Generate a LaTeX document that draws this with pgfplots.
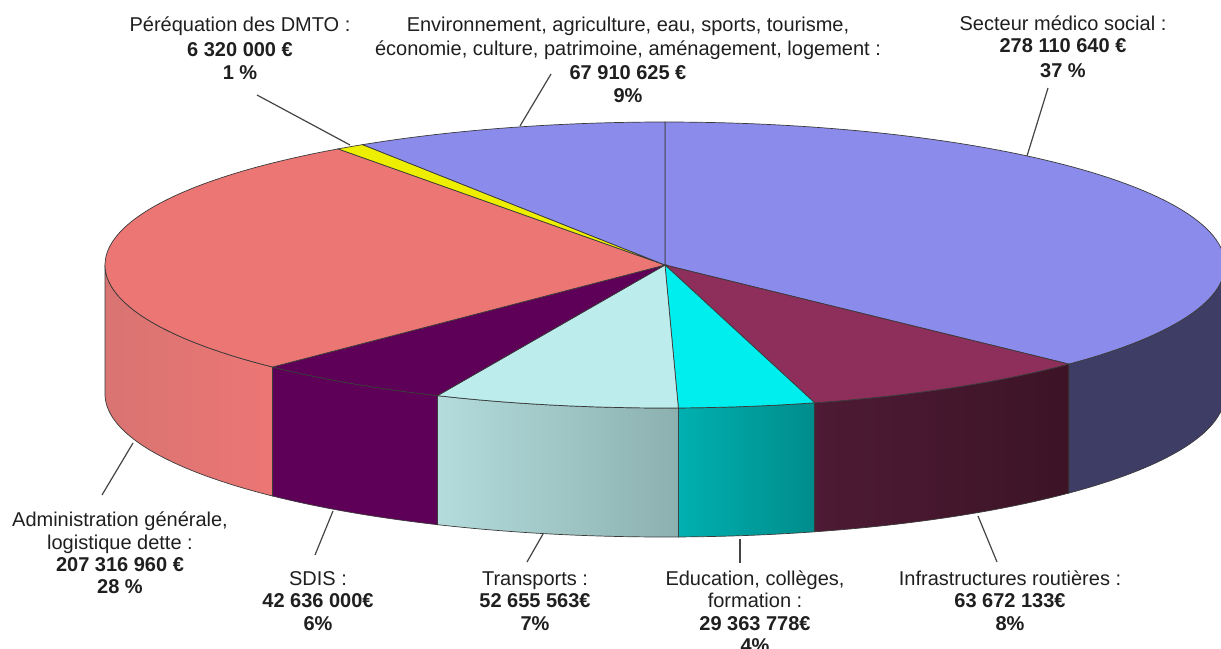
\documentclass[border=0pt]{standalone}
\usepackage{pgfplots}
\pgfplotsset{compat=1.18}
\usepackage{fontspec}
\setmainfont{Liberation Sans}

\definecolor{cSec}{HTML}{8B8BEC}
\definecolor{cSecS}{HTML}{3E3D66}
\definecolor{cInf}{HTML}{8E2E5B}
\definecolor{cInfSa}{HTML}{4E1A35}
\definecolor{cInfSb}{HTML}{3C1426}
\definecolor{cEdu}{HTML}{00EEEE}
\definecolor{cEduSa}{HTML}{00B0B0}
\definecolor{cEduSb}{HTML}{008C8C}
\definecolor{cTra}{HTML}{BCECEC}
\definecolor{cTraSa}{HTML}{B4DCDC}
\definecolor{cTraSb}{HTML}{8CB0B0}
\definecolor{cSDI}{HTML}{5E0057}
\definecolor{cAdm}{HTML}{EC7674}
\definecolor{cAdmSa}{HTML}{D87472}
\definecolor{cPer}{HTML}{EEEE00}
\definecolor{cEnv}{HTML}{8B8BEC}
\definecolor{cEdge}{HTML}{3A3A3A}
\definecolor{cLead}{HTML}{444444}

% values in millions of euros
\def\vSec{278.110640}
\def\vInf{63.672133}
\def\vEdu{29.363778}
\def\vTra{52.655563}
\def\vSDI{42.636000}
\def\vAdm{207.316960}
\def\vPer{6.320000}
\def\vEnv{67.910625}

\pgfmathsetmacro\tot{\vSec+\vInf+\vEdu+\vTra+\vSDI+\vAdm+\vPer+\vEnv}
\pgfmathsetmacro\aZ{90}
\pgfmathsetmacro\aA{\aZ-360*(\vSec/\tot)}
\pgfmathsetmacro\aB{\aA-360*(\vInf/\tot)}
\pgfmathsetmacro\aC{\aB-360*(\vEdu/\tot)}
\pgfmathsetmacro\aD{\aC-360*(\vTra/\tot)}
\pgfmathsetmacro\aE{\aD-360*(\vSDI/\tot)}
\pgfmathsetmacro\aF{\aE-360*(\vAdm/\tot)}
\pgfmathsetmacro\aG{\aF-360*(\vPer/\tot)}

\def\cx{665}
\def\cy{265}
\def\rx{560}
\def\ry{143}
\def\dep{129}

\newcommand\topsl[3]{%
  \addplot[#3, draw=cEdge, line width=0.35pt, domain=#1:#2, samples=90]
    ({\cx+\rx*cos(x)},{\cy-\ry*sin(x)}) -- (axis cs:\cx,\cy) -- cycle;}
\newcommand\side[3]{%
  \addplot[#3, draw=cEdge, line width=0.35pt,
    samples at={0,0.02,...,0.98,1,1.00001,1.02,1.04,...,1.98,2}]
    ({\cx+\rx*cos(ifthenelse(x<=1,(#1)+((#2)-(#1))*x,(#2)-((#2)-(#1))*(x-1)))},
     {\cy-\ry*sin(ifthenelse(x<=1,(#1)+((#2)-(#1))*x,(#2)-((#2)-(#1))*(x-1)))+ifthenelse(x>1,\dep,0)})
    -- cycle;}
\newcommand\lf{\fontsize{10pt}{11pt}\selectfont}
\newcommand\lb[3]{\node[anchor=base, font=\lf, text=black!88, inner sep=0pt] at (axis cs:#1,#2) {#3};}
\newcommand\lead[4]{\addplot[cLead, line width=0.6pt, no marks] coordinates {(#1,#2) (#3,#4)};}

\begin{document}
\begin{tikzpicture}
\begin{axis}[scale only axis, width=610.5pt, height=324pt,
  xmin=0, xmax=1221, ymin=0, ymax=648, y dir=reverse, hide axis]
% side faces (front half)
\side{\aA}{0}{fill=cSecS}
\side{\aB}{\aA}{left color=cInfSa, right color=cInfSb}
\side{\aC}{\aB}{left color=cEduSa, right color=cEduSb}
\side{\aD}{\aC}{left color=cTraSa, right color=cTraSb}
\side{\aE}{\aD}{fill=cSDI}
\side{-180}{\aE}{left color=cAdmSa, right color=cAdm}
% top faces
\topsl{\aA}{\aZ}{fill=cSec}
\topsl{\aB}{\aA}{fill=cInf}
\topsl{\aC}{\aB}{fill=cEdu}
\topsl{\aD}{\aC}{fill=cTra}
\topsl{\aE}{\aD}{fill=cSDI}
\topsl{\aF}{\aE}{fill=cAdm}
\topsl{\aG}{\aF}{fill=cPer}
\topsl{-270}{\aG}{fill=cEnv}
% leader lines
\lead{257}{95}{350}{145}
\lead{551}{74}{520}{126}
\lead{1048}{88}{1027}{156}
\lead{133}{443}{102}{495}
\lead{333}{511}{315}{555}
\lead{543}{534}{527}{562}
\lead{740}{539}{740}{563}
\lead{978}{516}{997}{562}
% labels
\lb{240}{32}{Péréquation des DMTO :}
\lb{240}{56}{\textbf{6 320 000 €}}
\lb{240}{79}{\textbf{1 \%}}
\lb{628}{32}{Environnement, agriculture, eau, sports, tourisme,}
\lb{628}{55}{économie, culture, patrimoine, aménagement, logement :}
\lb{628}{79}{\textbf{67 910 625 €}}
\lb{628}{102}{\textbf{9\%}}
\lb{1063}{30}{Secteur médico social :}
\lb{1063}{53}{\textbf{278 110 640 €}}
\lb{1063}{77}{\textbf{37 \%}}
\lb{120}{526}{Administration générale,}
\lb{120}{549}{logistique dette :}
\lb{120}{571}{\textbf{207 316 960 €}}
\lb{120}{593}{\textbf{28 \%}}
\lb{318}{585}{SDIS :}
\lb{318}{607}{\textbf{42 636 000€}}
\lb{318}{630}{\textbf{6\%}}
\lb{535}{585}{Transports :}
\lb{535}{607}{\textbf{52 655 563€}}
\lb{535}{630}{\textbf{7\%}}
\lb{755}{585}{Education, collèges,}
\lb{755}{607}{formation :}
\lb{755}{630}{\textbf{29 363 778€}}
\lb{755}{652}{\textbf{4\%}}
\lb{1010}{585}{Infrastructures routières :}
\lb{1010}{607}{\textbf{63 672 133€}}
\lb{1010}{630}{\textbf{8\%}}
\end{axis}
\pgfresetboundingbox
\path[use as bounding box] (current axis.south west) rectangle (current axis.north east);
\end{tikzpicture}
\end{document}
